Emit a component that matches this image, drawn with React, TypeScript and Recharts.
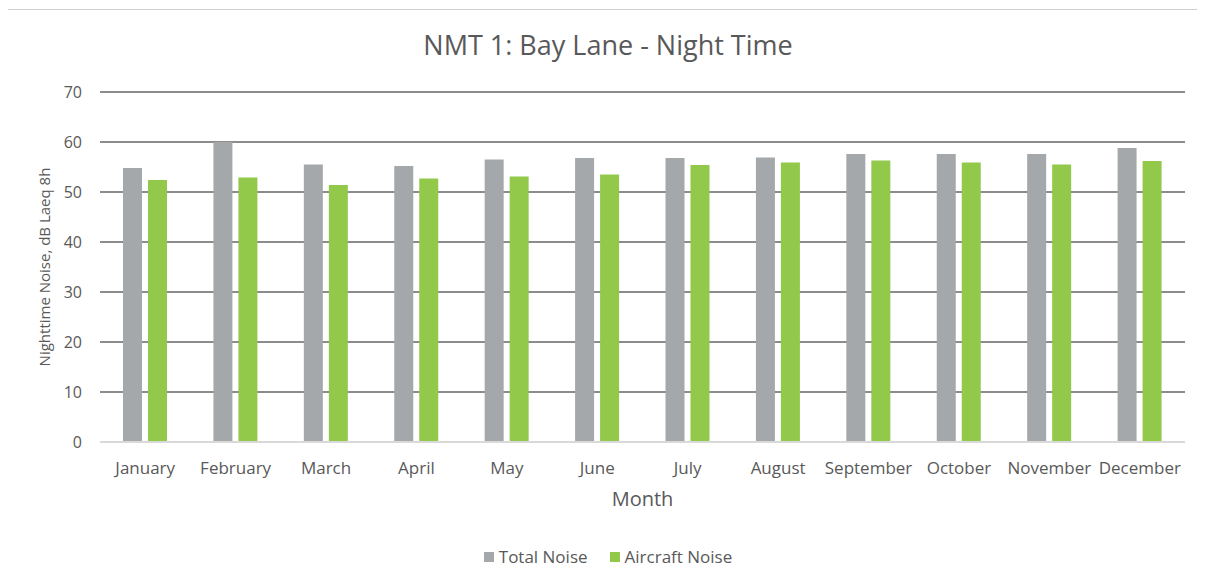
import React from "react";
import { BarChart, Bar, XAxis, YAxis, CartesianGrid } from "recharts";

const months = [
  "January", "February", "March", "April", "May", "June",
  "July", "August", "September", "October", "November", "December",
];
const totalNoise = [54.8, 60.0, 55.5, 55.2, 56.5, 56.8, 56.8, 56.9, 57.6, 57.6, 57.6, 58.8];
const aircraftNoise = [52.4, 52.9, 51.4, 52.7, 53.1, 53.5, 55.4, 55.9, 56.3, 55.9, 55.5, 56.2];
const yTicks = [0, 10, 20, 30, 40, 50, 60, 70];

const FONT = "'Open Sans', 'Noto Sans', sans-serif";
const TEXT = "#595959";
const GRAY = "#a5a8ab";
const GREEN = "#92c94a";

const data = months.map((m, i) => ({
  month: m,
  total: totalNoise[i],
  aircraft: aircraftNoise[i],
}));

const legendItems = [
  { label: "Total Noise", color: GRAY },
  { label: "Aircraft Noise", color: GREEN },
];

export default function App() {
  return (
    <div
      style={{
        position: "relative",
        width: 1197,
        height: 574,
        marginLeft: -1,
        marginTop: 1,
        border: "1px solid #d0d0d0",
        borderRight: "none",
        borderBottom: "none",
        fontFamily: FONT,
      }}
    >
      <div
        style={{
          position: "absolute",
          top: 16,
          left: 0,
          width: 1200,
          textAlign: "center",
          fontSize: 27,
          color: TEXT,
        }}
      >
        NMT 1: Bay Lane - Night Time
      </div>
      <BarChart
        width={1197}
        height={573}
        data={data}
        margin={{ top: 82, right: 20, bottom: 111, left: 0 }}
        barSize={19}
        barGap={6}
      >
        <CartesianGrid vertical={false} stroke="#8c8c8c" strokeWidth={2} horizontalValues={yTicks.slice(1)} />
        <XAxis
          dataKey="month"
          axisLine={{ stroke: "#d9d9d9", strokeWidth: 2 }}
          tickLine={false}
          tick={{ fill: TEXT, fontSize: 17, fontFamily: FONT }}
          tickMargin={14}
          interval={0}
          label={{ value: "Month", position: "insideTop", offset: 50, fill: TEXT, fontSize: 20, fontFamily: FONT }}
        />
        <YAxis
          width={92}
          domain={[0, 70]}
          ticks={yTicks}
          axisLine={false}
          tickLine={false}
          tickMargin={12}
          tick={{ fill: TEXT, fontSize: 16, fontFamily: FONT }}
          label={{
            value: "Nighttime Noise, dB Laeq 8h",
            angle: -90,
            position: "insideLeft",
            offset: 37,
            style: { textAnchor: "middle" },
            fill: TEXT,
            fontSize: 15,
            fontFamily: FONT,
          }}
        />
        <Bar dataKey="total" name="Total Noise" fill={GRAY} isAnimationActive={false} />
        <Bar dataKey="aircraft" name="Aircraft Noise" fill={GREEN} isAnimationActive={false} />
      </BarChart>
      <div
        style={{
          position: "absolute",
          top: 535,
          left: 0,
          width: 1200,
          display: "flex",
          justifyContent: "center",
          gap: 22,
          fontSize: 17,
          color: TEXT,
        }}
      >
        {legendItems.map((it) => (
          <div key={it.label} style={{ display: "flex", alignItems: "center" }}>
            <span style={{ width: 10, height: 10, background: it.color, display: "inline-block", marginRight: 5 }} />
            {it.label}
          </div>
        ))}
      </div>
    </div>
  );
}
